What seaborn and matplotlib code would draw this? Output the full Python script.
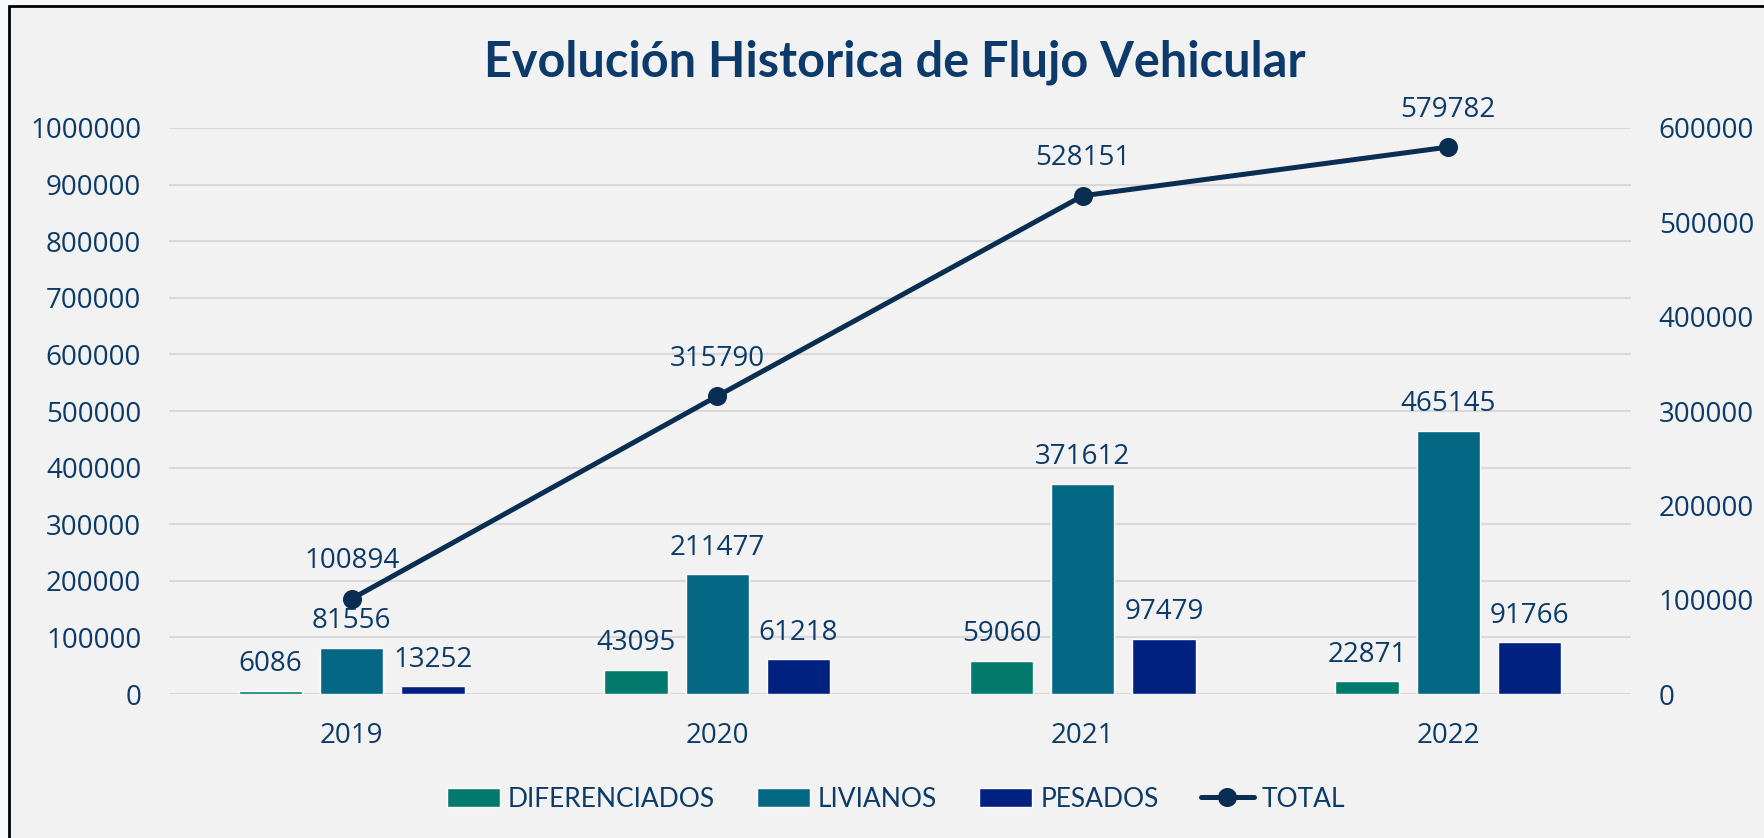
import pandas as pd
import numpy as np
import matplotlib
matplotlib.use("Agg")
import matplotlib.pyplot as plt
from matplotlib.patches import Rectangle
import seaborn as sns

# Chart data
years = ["2019", "2020", "2021", "2022"]
diferenciados = [6086, 43095, 59060, 22871]
livianos = [81556, 211477, 371612, 465145]
pesados = [13252, 61218, 97479, 91766]
total = [100894, 315790, 528151, 579782]
series_names = ["DIFERENCIADOS", "LIVIANOS", "PESADOS"]

# Colours
bar_colors = ["#037A6E", "#046783", "#00217F"]
line_color = "#0A2D52"
text_color = "#0D3B69"
bg_color = "#F2F2F2"

sns.set_theme(style="white")
plt.rcParams["font.family"] = ["Open Sans", "DejaVu Sans"]
plt.rcParams["text.color"] = text_color

# Long table for the grouped bars
df = pd.DataFrame({
    "year": years * 3,
    "tipo": np.repeat(series_names, len(years)),
    "value": diferenciados + livianos + pesados,
})

fig = plt.figure(figsize=(17.64, 8.38), dpi=100, facecolor="#F8F9FB")
# chart area panel with black border at top/left
fig.patches.append(Rectangle((9 / 1764, -0.05), 1.2, 1.05 - 6 / 838,
                             transform=fig.transFigure, facecolor=bg_color,
                             edgecolor="black", linewidth=2, zorder=-1))

ax = fig.add_axes([169 / 1764, 1 - 694 / 838, 1462 / 1764, 566 / 838])
ax.set_facecolor("none")

sns.barplot(data=df, x="year", y="value", hue="tipo", palette=bar_colors,
            width=0.666, gap=0.22, saturation=1, ax=ax, zorder=2)

ax.set_ylim(0, 1000000)
ax.set_yticks(np.arange(0, 1000001, 100000))
ax.ticklabel_format(style="plain", axis="y", useOffset=False)
ax.yaxis.grid(True, color="#D9D9D9", linewidth=1.5, zorder=0)
ax.set_axisbelow(True)
ax.set_xlabel("")
ax.set_ylabel("")
for s in ax.spines.values():
    s.set_visible(False)
ax.tick_params(axis="y", length=0, pad=20, labelsize=20, labelcolor=text_color)
ax.tick_params(axis="x", length=0, pad=20, labelsize=20, labelcolor=text_color)

for c in ax.containers:
    ax.bar_label(c, fmt="%d", padding=9, fontsize=20, color=text_color)

handles, labels = ax.get_legend_handles_labels()
if ax.get_legend() is not None:
    ax.get_legend().remove()

# Total line on the secondary axis
ax2 = ax.twinx()
sns.pointplot(x=years, y=total, ax=ax2, color=line_color, markers="o",
              linewidth=3.6, markersize=11)
ax2.set_ylim(0, 600000)
ax2.set_yticks(np.arange(0, 600001, 100000))
ax2.ticklabel_format(style="plain", axis="y", useOffset=False)
ax2.grid(False)
ax2.set_ylabel("")
for s in ax2.spines.values():
    s.set_visible(False)
ax2.tick_params(axis="y", length=0, pad=20, labelsize=20, labelcolor=text_color)

for i, v in enumerate(total):
    ax2.annotate(str(v), (i, v), xytext=(0, 27), textcoords="offset points",
                 ha="center", va="center", fontsize=20, color=text_color)

line = ax2.lines[0]
line.set_label("TOTAL")
handles.append(line)
labels.append("TOTAL")

fig.legend(handles, labels, loc="center", bbox_to_anchor=(0.508, 1 - 799 / 838),
           ncol=4, frameon=False, handlelength=2.0, handleheight=0.7,
           handletextpad=0.3, columnspacing=1.6,
           prop={"family": "Lato", "size": 19}, labelcolor=text_color)

fig.text(0.507, 1 - 62 / 838, "Evolución Historica de Flujo Vehicular",
         ha="center", va="center", fontsize=35, fontweight="bold",
         family="Lato", color="#0B3A6B")

fig.savefig("out.png", dpi=100, facecolor=fig.get_facecolor())
